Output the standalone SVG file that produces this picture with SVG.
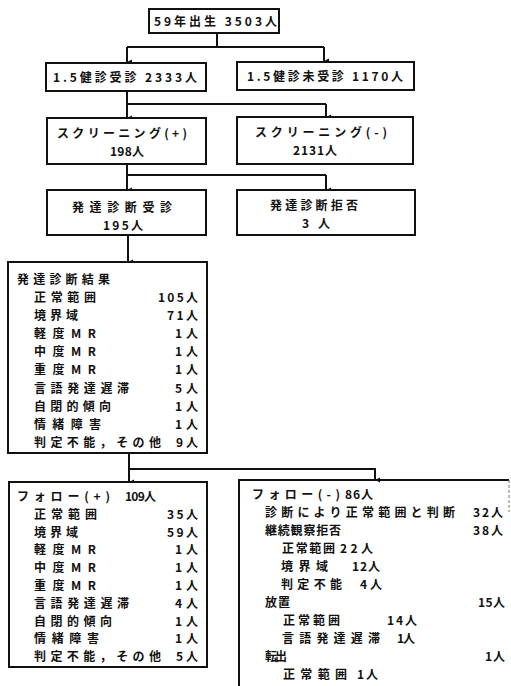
<svg xmlns="http://www.w3.org/2000/svg" width="511" height="686" viewBox="0 0 511 686">
<style>
text{font-family:"Noto Sans CJK JP","Noto Sans",sans-serif;font-size:12px;font-weight:700;fill:#111}
.box{fill:#fff;stroke:#111;stroke-width:2}
.con{fill:none;stroke:#111;stroke-width:2}
</style>
<defs>
<marker id="ah" viewBox="0 0 6 6" refX="3" refY="6" markerWidth="6" markerHeight="6" orient="auto" markerUnits="userSpaceOnUse">
<path d="M0.5 1 L3 6 L5.5 1 Z" fill="#111"/>
</marker>
</defs>
<rect width="511" height="686" fill="#fff"/>
<g id="connectors">
<path class="con" d="M217 33 V47 M127 47 H324"/>
<path class="con" d="M127 47 V62" marker-end="url(#ah)"/>
<path class="con" d="M324 47 V61" marker-end="url(#ah)"/>
<path class="con" d="M127 91 V104 H326"/>
<path class="con" d="M127 104 V118" marker-end="url(#ah)"/>
<path class="con" d="M326 104 V117" marker-end="url(#ah)"/>
<path class="con" d="M127 164 V175 H326"/>
<path class="con" d="M127 175 V190" marker-end="url(#ah)"/>
<path class="con" d="M326 175 V190" marker-end="url(#ah)"/>
<path class="con" d="M128 235 V262" marker-end="url(#ah)"/>
<path class="con" d="M129 453 V482" marker-end="url(#ah)"/>
<path class="con" d="M129 469 H375 V480" marker-end="url(#ah)"/>
</g>
<g id="birth">
<rect class="box" x="149" y="9" width="130" height="24"/>
<text x="154" y="26" textLength="123">59年出生 3503人</text>
</g>
<g id="checkup">
<rect class="box" x="46" y="63" width="160" height="28"/>
<text x="53" y="82" textLength="144">1.5健診受診 2333人</text>
</g>
<g id="nocheckup">
<rect class="box" x="237" y="62" width="177" height="28"/>
<text x="247" y="81" textLength="156">1.5健診未受診 1170人</text>
</g>
<g id="screenpos">
<rect class="box" x="47" y="118" width="159" height="46"/>
<text x="57" y="138" textLength="130">スクリーニング(+)</text>
<text x="110" y="156" textLength="34">198人</text>
</g>
<g id="screenneg">
<rect class="box" x="237" y="117" width="176" height="47"/>
<text x="255" y="137" textLength="132">スクリーニング(-)</text>
<text x="293" y="155" textLength="44">2131人</text>
</g>
<g id="devexam">
<rect class="box" x="47" y="190" width="159" height="45"/>
<text x="72" y="212" textLength="100">発達診断受診</text>
<text x="103" y="230" textLength="40">195人</text>
</g>
<g id="devrefuse">
<rect class="box" x="237" y="190" width="178" height="45"/>
<text x="270" y="210" textLength="88">発達診断拒否</text>
<text x="302" y="228" textLength="28">3人</text>
</g>
<g id="result">
<rect class="box" x="8" y="262" width="199" height="191"/>
<text x="17" y="284" textLength="93">発達診断結果</text>
<text x="34" y="302" textLength="62">正常範囲</text><text x="158" y="302" textLength="40">105人</text>
<text x="34" y="320" textLength="44">境界域</text><text x="167" y="320" textLength="31">71人</text>
<text x="34" y="338" textLength="62">軽度MR</text><text x="175" y="338" textLength="23">1人</text>
<text x="34" y="356" textLength="62">中度MR</text><text x="175" y="356" textLength="23">1人</text>
<text x="34" y="374" textLength="62">重度MR</text><text x="175" y="374" textLength="23">1人</text>
<text x="34" y="393" textLength="95">言語発達遅滞</text><text x="175" y="393" textLength="23">5人</text>
<text x="34" y="411" textLength="77">自閉的傾向</text><text x="175" y="411" textLength="23">1人</text>
<text x="34" y="429" textLength="67">情緒障害</text><text x="175" y="429" textLength="23">1人</text>
<text x="34" y="447" textLength="127">判定不能，その他</text><text x="176" y="447" textLength="22">9人</text>
</g>
<g id="followpos">
<rect class="box" x="9" y="482" width="198" height="185"/>
<text x="17" y="501" textLength="93">フォロー(+)</text><text x="125" y="501" textLength="31">109人</text>
<text x="34" y="519" textLength="63">正常範囲</text><text x="167" y="519" textLength="31">35人</text>
<text x="34" y="537" textLength="44">境界域</text><text x="167" y="537" textLength="31">59人</text>
<text x="34" y="554" textLength="62">軽度MR</text><text x="175" y="554" textLength="23">1人</text>
<text x="34" y="572" textLength="62">中度MR</text><text x="175" y="572" textLength="23">1人</text>
<text x="34" y="590" textLength="62">重度MR</text><text x="175" y="590" textLength="23">1人</text>
<text x="34" y="608" textLength="95">言語発達遅滞</text><text x="175" y="608" textLength="23">4人</text>
<text x="34" y="626" textLength="78">自閉的傾向</text><text x="175" y="626" textLength="23">1人</text>
<text x="34" y="643" textLength="65">情緒障害</text><text x="175" y="643" textLength="23">1人</text>
<text x="34" y="661" textLength="127">判定不能，その他</text><text x="176" y="661" textLength="22">5人</text>
</g>
<g id="followneg">
<path d="M239 700 V480 H509" fill="none" stroke="#111" stroke-width="2"/>
<path d="M509 480 V512" fill="none" stroke="#777" stroke-width="1" stroke-dasharray="3 2"/>
<text x="252" y="499" textLength="88">フォロー(-)</text><text x="345" y="499" textLength="28">86人</text>
<text x="265" y="517" textLength="190">診断により正常範囲と判断</text><text x="473" y="517" textLength="30">32人</text>
<text x="265" y="535" textLength="76">継続観察拒否</text><text x="473" y="535" textLength="30">38人</text>
<text x="282" y="553" textLength="53">正常範囲</text><text x="340" y="553" textLength="33">22人</text>
<text x="281" y="571" textLength="47">境界域</text><text x="352" y="571" textLength="28">12人</text>
<text x="281" y="589" textLength="61">判定不能</text><text x="360" y="589" textLength="22">4人</text>
<text x="265" y="607" textLength="25">放置</text><text x="478" y="607" textLength="27">15人</text>
<text x="283" y="625" textLength="57">正常範囲</text><text x="387" y="625" textLength="30">14人</text>
<text x="282" y="643" textLength="98">言語発達遅滞</text><text x="397" y="643" textLength="18">1人</text>
<text x="265" y="661" textLength="22">転出</text><text x="485" y="661" textLength="20">1人</text>
<text x="283" y="679" textLength="64">正常範囲</text><text x="357" y="679" textLength="21">1人</text>
</g>
</svg>
